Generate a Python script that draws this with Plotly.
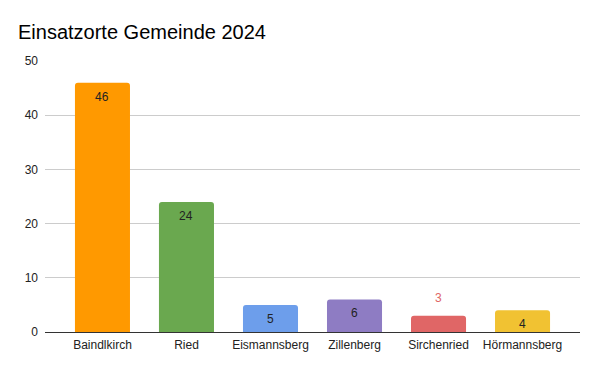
import plotly.graph_objects as go

categories = ["Baindlkirch", "Ried", "Eismannsberg", "Zillenberg", "Sirchenried", "Hörmannsberg"]
values = [46, 24, 5, 6, 3, 4]
colors = ["#ff9900", "#6aa84f", "#6d9eeb", "#8e7cc3", "#e06666", "#f1c232"]
y_ticks = [0, 10, 20, 30, 40, 50]

inside_min = 4

FONT = "Arial, Liberation Sans, sans-serif"
fig = go.Figure()
fig.add_trace(go.Bar(
    x=categories, y=values,
    marker=dict(color=colors, cornerradius=3, line=dict(width=0)),
    width=0.655,
    hoverinfo="skip",
))

for c, v, col in zip(categories, values, colors):
    if v >= inside_min:
        fig.add_annotation(x=c, y=v, text=str(v), showarrow=False, yanchor="top",
                           yshift=-5, font=dict(color="#222222", size=12, family=FONT))
    else:
        fig.add_annotation(x=c, y=v, text=str(v), showarrow=False, yanchor="bottom",
                           yshift=9, font=dict(color=col, size=12, family=FONT))

# page body has an 8px offset; margins compensate so the screenshot matches
fig.update_layout(
    width=600, height=371,
    margin=dict(l=37, r=28, t=53, b=47),
    paper_bgcolor="white", plot_bgcolor="white",
    font=dict(family=FONT, size=12, color="#222222"),
    title=dict(text="Einsatzorte Gemeinde 2024", x=10/600, xref="container", xanchor="left",
               y=1 - 31/371, yref="container", yanchor="bottom",
               font=dict(size=20, color="#000000", family=FONT)),
    showlegend=False,
)
fig.update_xaxes(range=[-0.684, 5.684], showgrid=False, showline=True, linecolor="#333333",
                 linewidth=1, ticks="", ticklabelstandoff=2, tickfont=dict(size=12, color="#222222"))
fig.update_yaxes(range=[0, 50], tickvals=y_ticks, showgrid=True, gridcolor="#cccccc",
                 zeroline=False, showline=False, ticks="", ticklabelstandoff=6,
                 tickfont=dict(size=12, color="#222222"))

fig.write_html("out.html")
